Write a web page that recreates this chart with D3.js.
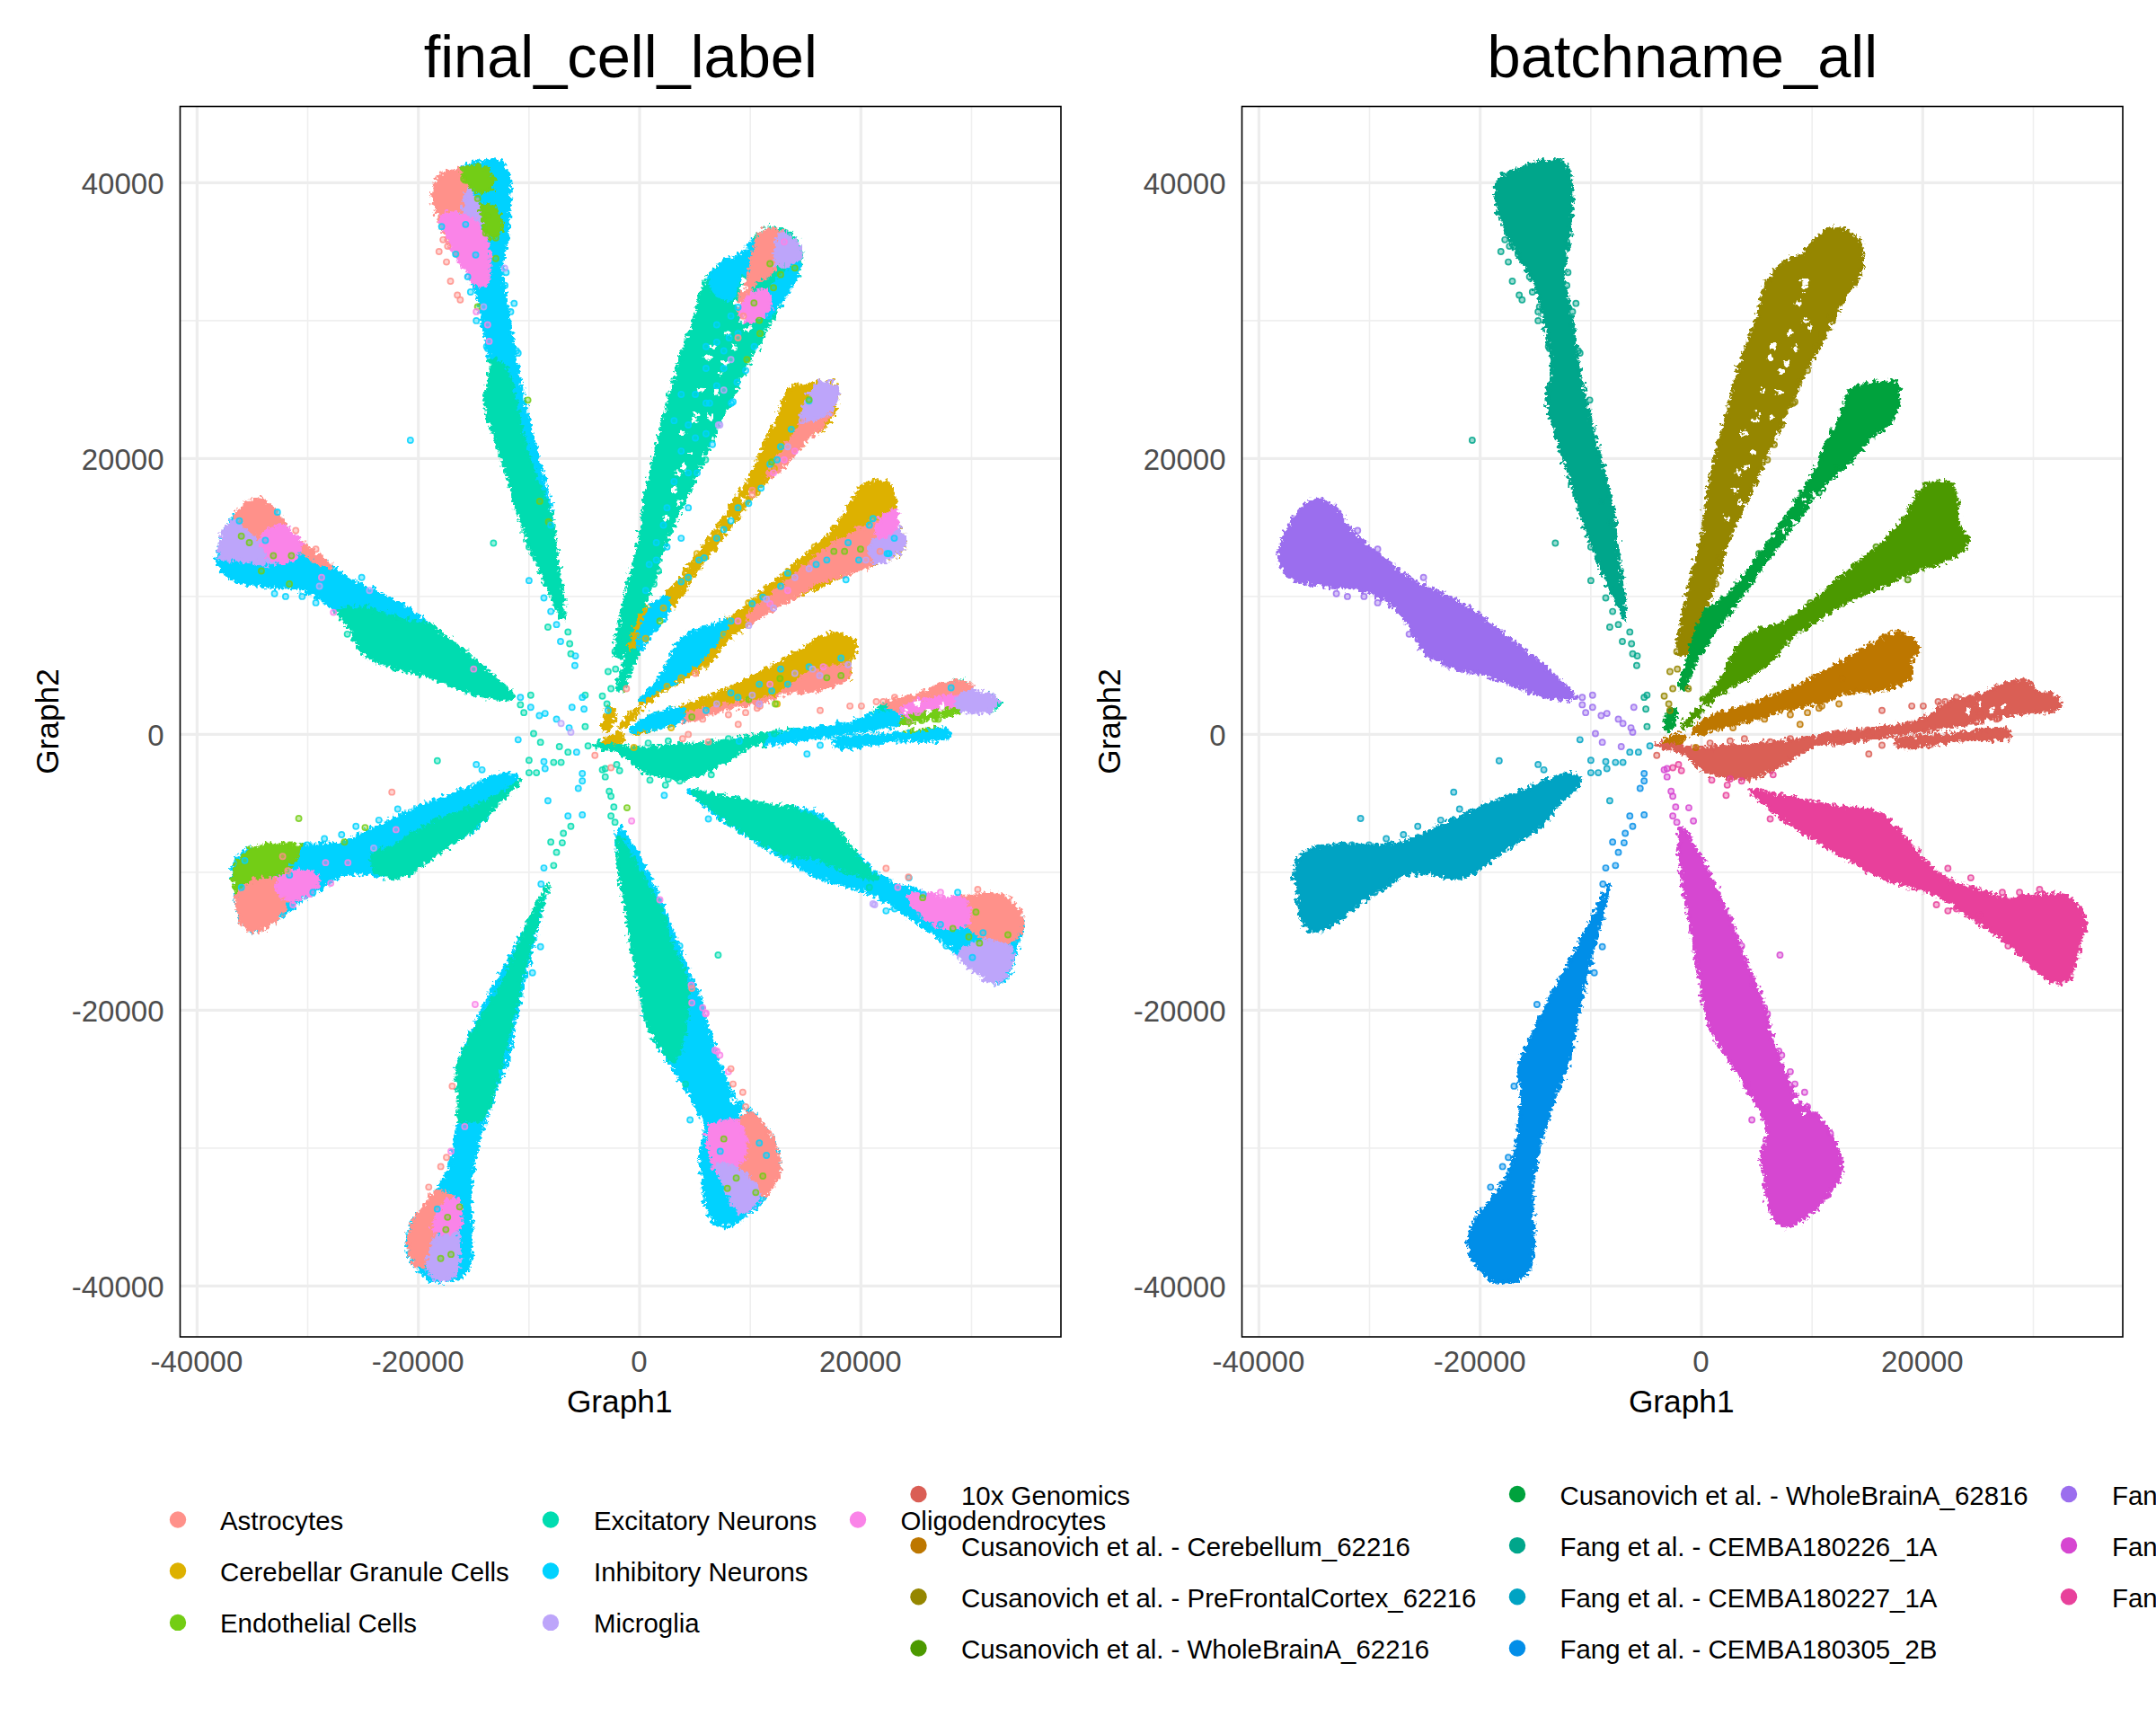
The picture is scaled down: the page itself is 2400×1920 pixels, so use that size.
<!DOCTYPE html>
<html><head><meta charset="utf-8">
<script src="https://cdn.jsdelivr.net/npm/d3@7/dist/d3.min.js"></script>
<style>html,body{margin:0;padding:0;background:#fff;overflow:hidden}svg{display:block}text{font-family:"Liberation Sans",Arial,sans-serif}</style>
</head><body><svg id="c" width="2400" height="1920"></svg>
<script>
const cellLabels=["Astrocytes","Cerebellar Granule Cells","Endothelial Cells","Excitatory Neurons","Inhibitory Neurons","Microglia","Oligodendrocytes"];
const cellColors=["#FF918A","#DDB100","#73CD14","#00DCB0","#00D2FF","#BDA5FA","#FA84E8"];
const batchLabels=["10x Genomics","Cusanovich et al. - Cerebellum_62216","Cusanovich et al. - PreFrontalCortex_62216","Cusanovich et al. - WholeBrainA_62216","Cusanovich et al. - WholeBrainA_62816","Fang et al. - CEMBA180226_1A","Fang et al. - CEMBA180227_1A","Fang et al. - CEMBA180305_2B","Fang et al.","Fang et al.","Fang et al."];
const batchColors=["#DA5E55","#BD7700","#958600","#4C9900","#00A23D","#00A68B","#00A3C3","#038EE8","#9B6EEE","#D646D1","#E8419B"];
const xMajor=[-40000,-20000,0,20000], xMinor=[-30000,-10000,10000,30000];
const yMajor=[-40000,-20000,0,20000,40000], yMinor=[-30000,-10000,10000,30000];

// Arm outlines (Graph1, Graph2)
const outline10x=[[[-4144,-790],[-3108,-474],[-777,-948],[2849,-790],[7511,-474],[12173,158],[15799,474],[19943,1106],[22533,2370],[25641,3002],[27195,3634],[29526,3855],[30303,3160],[31857,2844],[32530,2212],[31857,1738],[29267,1580],[23051,632],[17871,0],[12691,-632],[10101,-837],[8029,-1884],[4921,-3080],[3367,-3229],[259,-2631],[-1554,-1435],[-3626,-987]],[[17457,-474],[23051,63],[27713,316],[27972,-158],[23051,-474],[17871,-885]]];
const outlineCer=[[[-777,316],[777,1264],[3885,2054],[7511,3160],[11137,4582],[14245,6004],[16576,7110],[17871,7331],[19321,6794],[19529,5846],[18907,5372],[19011,4266],[17871,3634],[15799,3160],[13209,3002],[11137,2370],[8029,1896],[4921,1106],[1813,474],[-518,63]],[[-3367,-474],[-1813,63],[-1295,-316],[-2849,-632]]];
const outlinePFC=[[[-2072,5688],[-1554,9164],[-777,11692],[0,14220],[518,17380],[1295,20224],[2331,23384],[3626,27176],[4921,30020],[5957,32864],[7252,34128],[9324,34918],[10101,35708],[11655,36719],[13209,36498],[14400,35550],[14349,33496],[13209,31916],[11914,30020],[10878,28440],[9583,26544],[8288,24332],[6993,22120],[5698,19908],[4403,17380],[2849,14852],[2072,13272],[1554,11692],[1036,10586],[259,8848],[-777,6320]]];
const outlineWB1=[[[0,2370],[1554,3792],[2590,5372],[3885,6952],[5439,7647],[7252,8058],[9324,9164],[11655,10744],[13986,12324],[16317,13904],[18389,15800],[19684,17538],[20461,18170],[22533,18170],[23155,16748],[23310,15168],[24087,14062],[23310,13114],[21238,12324],[18907,11692],[16835,10902],[14504,10112],[12173,9164],[10101,8058],[8029,6952],[6216,5214],[3885,3950],[1813,3002],[518,2212]],[[-1813,474],[-777,1580],[155,1896],[-1036,790]]];
const outlineWB2=[[[-1917,3318],[-1036,6004],[259,8848],[2331,10112],[4144,11850],[6475,14378],[8547,16906],[10360,19276],[11137,20856],[12432,22910],[13468,24964],[14763,25343],[17612,25438],[17871,24332],[17094,22594],[15281,21488],[13209,19592],[11655,18486],[10360,17380],[8806,15642],[6993,13746],[5180,11850],[3626,9954],[1813,8058],[0,6004],[-1036,4266],[-1554,3160]],[[-3367,379],[-2745,1896],[-2227,1896],[-2849,316]]];
const outline226=[[[-6890,8374],[-8547,11060],[-10619,15168],[-11914,18644],[-13209,21804],[-13986,24174],[-13468,26544],[-14245,30020],[-15022,32548],[-16835,35076],[-18130,37288],[-18648,39184],[-18285,40290],[-16317,41080],[-14245,41554],[-12432,41459],[-11759,40132],[-11914,36340],[-12432,33180],[-11914,30968],[-11396,28124],[-11033,26544],[-10360,24016],[-9324,20540],[-8029,16432],[-7511,12956]]];
const outline227=[[[-10878,-3379],[-12691,-4874],[-14763,-6817],[-17094,-8013],[-19425,-9359],[-21756,-10405],[-24605,-10106],[-26936,-10256],[-28749,-11153],[-30821,-12199],[-32893,-13545],[-34965,-14292],[-36001,-13694],[-36519,-11601],[-36778,-9807],[-36001,-8611],[-33411,-8013],[-29785,-8013],[-27195,-7864],[-24087,-6817],[-20979,-5621],[-18389,-4724],[-15799,-3977],[-12691,-2930],[-11396,-2930]]];
const outline305=[[[-8288,-10854],[-9065,-13395],[-10101,-16684],[-11137,-20272],[-11914,-23561],[-13209,-26252],[-14504,-29541],[-15281,-32830],[-15177,-36717],[-15799,-39109],[-18389,-39707],[-20202,-38661],[-21083,-37016],[-20461,-35222],[-18907,-33578],[-17353,-31634],[-16576,-28943],[-16317,-26252],[-16576,-24159],[-15281,-21767],[-13727,-19076],[-11655,-16086],[-10101,-13694],[-8806,-11601]]];
const outlinePurple=[[[-11396,2686],[-13727,4582],[-15799,6004],[-18389,7584],[-20979,9164],[-23569,10270],[-26159,11218],[-28749,12798],[-31339,14536],[-33152,16432],[-34706,17064],[-36260,16274],[-37814,14220],[-38073,12324],[-36778,11218],[-33929,10744],[-30562,10428],[-27972,9322],[-26159,7584],[-25123,6004],[-22533,4898],[-19425,4266],[-16317,3318],[-13727,2686]]];
const outlineMagenta=[[[-1917,-6757],[-259,-8611],[1295,-11003],[2590,-13395],[4144,-16684],[5439,-19076],[6216,-21468],[7511,-24458],[8806,-26551],[10619,-27747],[11914,-29242],[12691,-31634],[11655,-33129],[10101,-34624],[7511,-35671],[6216,-34624],[5698,-31933],[5439,-30438],[5957,-28644],[3885,-25355],[777,-21169],[-259,-17282],[-1036,-13694],[-1813,-10106],[-2072,-7714]]];
const outlinePink=[[[4403,-4066],[7511,-4485],[12173,-5173],[15799,-5621],[17353,-6518],[18648,-7714],[19943,-8910],[22015,-10405],[25123,-11302],[27713,-11840],[32375,-11601],[33670,-12199],[34706,-13545],[34188,-15189],[33152,-17731],[31857,-17970],[30044,-16983],[27713,-15189],[24605,-13395],[20979,-11601],[16317,-10405],[13209,-9060],[10101,-7565],[7511,-6219],[5439,-4874]]];

// Cell-type zones inside each arm: [cell index, polygon]
const zones10x=[[4,[[11460,-316],[16597,632],[23016,1738],[23979,1264],[23016,632],[16597,-316],[11781,-948]]],[4,[[17238,-474],[28152,316],[28152,-316],[17559,-948]]],[0,[[22374,2528],[24923,3160],[28473,3855],[30335,3539],[29757,2686],[26226,2212],[23016,1738]]],[6,[[23658,1896],[29116,2686],[28794,1738],[23979,1264]]],[5,[[28794,2686],[30496,3318],[32328,2528],[32167,2054],[30496,1106],[28794,1422]]],[2,[[23658,948],[28794,1738],[28955,1264],[26226,474],[23979,316]]]];
const zonesCer=[[0,[[12423,2844],[15312,4424],[18843,4898],[18683,3792],[16597,3160],[13386,2686],[10176,1896],[6966,1106],[3756,790],[3756,1264],[7448,2054]]],[4,[[-899,316],[546,1264],[3756,1896],[3756,948],[546,316]]]];
const zonesPFC=[[4,[[6324,33180],[7929,34602],[10176,35866],[10818,34128],[9213,33180],[8250,31600],[6966,31916]]],[0,[[10336,35076],[11139,36498],[13065,36340],[12744,34444],[11460,33180],[10497,32864],[9694,30968],[9213,30336],[8892,31284],[9855,33180]]],[5,[[12744,36340],[14349,35550],[14285,34286],[12423,34128]]],[4,[[12102,32548],[14349,34128],[14189,33180],[12744,31284],[11460,30336]]],[6,[[9373,31284],[11460,32232],[11781,30968],[10497,30020],[9213,30020]]]];
const zonesWB1=[[0,[[16597,13272],[19806,14852],[23016,15800],[23337,14536],[21732,12640],[19164,11692],[16276,11060],[13386,9480],[10176,7584],[9855,8532],[13386,11060]]],[5,[[21411,14220],[23016,15168],[24119,14062],[23016,12956],[21411,12324],[20769,13272]]],[6,[[21411,15168],[23176,16274],[23337,15168],[21732,14220]]],[4,[[-96,2370],[1830,4424],[3756,6952],[5361,7900],[7929,8216],[6966,6636],[5040,5056],[3113,3792],[1188,3002]]]];
const zonesWB2=[[0,[[17559,24016],[16597,22436],[14670,20856],[13065,19276],[11460,18644],[14029,21804],[15633,23700]]],[5,[[15633,24964],[16597,25596],[17880,25122],[17559,23700],[15312,22752],[14670,23068]]],[4,[[-96,6004],[867,9164],[2151,10112],[2793,9164],[1188,6004]]],[3,[[-1862,4740],[-1059,6004],[-96,6004],[-738,3476],[-2000,3160]]]];
const zones226=[[3,[[-6497,7584],[-7221,12008],[-7945,15800],[-9936,19908],[-11022,23384],[-12108,26544],[-13375,27176],[-14642,24648],[-14280,20540],[-11746,15168],[-8850,9480]]],[0,[[-18986,39184],[-17900,40922],[-16090,41080],[-15185,39500],[-15728,37604],[-16090,36024],[-15366,33496],[-16452,33812],[-17900,36340],[-18986,37920]]],[5,[[-15547,39500],[-14460,38236],[-14460,36656],[-15728,36340],[-15909,37604]]],[6,[[-17900,37604],[-15728,37604],[-13918,36024],[-13918,32548],[-15728,33180],[-17176,35708]]],[2,[[-16090,40922],[-14461,41238],[-13375,40606],[-13375,39658],[-14642,39342],[-15728,40132]]],[2,[[-14280,38394],[-13194,38236],[-12470,36656],[-13556,36024],[-14099,37288]]]];
const zones227=[[3,[[-10682,-3319],[-13012,-4515],[-15496,-5412],[-18602,-6309],[-22329,-8103],[-24193,-8701],[-23882,-9897],[-21708,-10495],[-18602,-9000],[-15496,-7206],[-12390,-4814]]],[2,[[-36617,-9897],[-35996,-8850],[-34132,-7953],[-30716,-7953],[-31958,-9897],[-34753,-10495],[-36617,-11392]]],[0,[[-36306,-11691],[-34753,-10645],[-31958,-10794],[-32269,-12887],[-33821,-14083],[-35685,-14083]]],[6,[[-32890,-10794],[-31337,-9897],[-29163,-10196],[-29163,-11093],[-31026,-11990],[-31958,-11990]]]];
const zones305=[[3,[[-8197,-10794],[-9285,-13784],[-10527,-17372],[-11769,-21558],[-12701,-24548],[-14254,-27837],[-16739,-27837],[-16739,-24548],[-14565,-20960],[-12390,-17970],[-10527,-14382],[-8974,-11392]]],[0,[[-20932,-36807],[-19845,-34415],[-18602,-33219],[-17360,-33219],[-16739,-34714],[-18602,-36508],[-19224,-38302],[-20155,-38601]]],[5,[[-19068,-37704],[-18292,-36508],[-16584,-36209],[-16739,-39200],[-18292,-39648],[-19068,-38900]]],[6,[[-18602,-35909],[-17360,-33818],[-16428,-33818],[-16428,-35909]]]];
const zonesPurple=[[3,[[-11022,2686],[-14280,5056],[-17900,7584],[-21520,8374],[-25140,9164],[-27493,8848],[-26588,6952],[-25502,6004],[-21520,4424],[-16090,3160],[-12108,2212]]],[0,[[-36543,15958],[-35095,17222],[-33104,16748],[-31656,15010],[-29484,13588],[-27855,12166],[-29846,12798],[-32380,14852],[-34190,13904],[-35999,15010]]],[5,[[-37991,13904],[-36905,15484],[-35638,14852],[-33828,13588],[-32380,12798],[-33828,12324],[-35999,12640],[-37810,12798]]],[6,[[-34190,14220],[-32380,15168],[-30570,13904],[-31294,12640],[-33104,12640]]]];
const zonesMagenta=[[3,[[-1862,-7505],[225,-10196],[2151,-13186],[2793,-14980],[4077,-17372],[4398,-19764],[3113,-23651],[1830,-22752],[546,-20960],[-96,-18269],[-1059,-14382],[-2022,-9299]]],[0,[[8571,-28435],[10176,-27538],[11781,-29033],[12744,-32023],[11139,-33519],[9213,-31724]]],[6,[[6324,-28435],[8892,-28136],[9534,-30528],[7127,-31724],[6324,-30229]]],[5,[[6966,-31126],[9213,-31724],[10818,-33519],[9213,-34714],[7608,-32621]]]];
const zonesPink=[[3,[[4719,-4066],[10176,-4814],[13386,-5262],[18523,-7206],[19806,-9000],[21411,-10495],[18523,-9897],[15955,-9000],[13065,-8701],[10176,-7505],[6966,-5711]]],[0,[[29115,-11691],[30720,-11093],[33930,-11990],[34732,-13485],[33609,-14980],[31041,-14681],[29436,-13485]]],[5,[[28794,-15877],[31362,-14980],[33609,-15578],[32969,-17671],[31041,-17970],[29436,-17073]]],[6,[[24300,-11691],[29436,-11990],[29757,-13485],[27831,-14083],[25583,-13186]]]];

// Points visibly apart from the arms: [Graph1, Graph2, cell index]
const stray10x=[[16317,1738,0],[19011,2054,0],[20047,2054,0],[21394,2370,0],[15126,-1422,4],[16317,-790,4],[-4040,-1517,0],[3885,-316,0],[6216,-537,0],[24087,2528,0],[23051,2686,0],[22015,2370,0],[25123,1580,6],[26677,1106,2],[24346,948,6],[12173,63,3],[15022,316,4],[8029,-316,3],[777,-632,3],[2590,-474,3]];
const strayCer=[[12432,2212,1],[10878,2054,0],[8910,727,0],[-518,-948,1],[10619,1896,0],[9583,1580,0],[8029,1422,0],[5698,1106,0],[2849,474,1],[12691,4045,2]];
const strayPFC=[[-2849,4550,3],[-2176,4740,3],[-3367,2781,3],[-2590,3318,3],[-2953,2212,3],[-2849,1738,4],[-1191,3318,0],[11655,30336,4],[10878,29072,2],[10360,28124,4],[9583,26386,4],[8806,25533,4],[8443,24111,4],[7252,22436,5],[6579,21014,4],[5957,19908,3],[1554,12798,3],[1709,11850,3],[1295,10902,3],[-1813,6952,3],[-2227,6004,3],[8288,24016,4]];
const strayWB1=[[18648,11218,4],[9842,9543,1],[15799,13588,1]];
const strayWB2=[[12173,19276,1],[10619,17538,1],[8806,16906,1],[7252,15168,1],[6216,13904,1],[5180,13114,1]];
const stray226=[[-20720,21330,4],[-13209,13872,3],[-9997,11155,4],[-8651,9891,4],[-8029,8911,4],[-8288,7774,3],[-7511,7963,4],[-7148,6731,4],[-6475,7426,3],[-6320,6573,3],[-6216,5846,3],[-5802,5688,4],[-5854,4993,4],[-17767,35866,0],[-18130,35013,0],[-17457,34254,0],[-17094,32864,0],[-16472,31853,0],[-16213,31505,0],[-17353,35392,0],[-16576,34823,0],[-15281,32074,4],[-11344,31252,4],[-10982,27650,4],[-10101,24237,2],[-9031,16906,2],[-8235,15421,2],[-14642,31000,2],[-4921,2844,3],[-5180,2686,4],[-5025,1833,4],[-4921,569,3],[-13831,28124,4],[-14763,30000,4],[-15540,33180,4],[-13727,27966,4],[-14763,30652,6],[-12173,35708,4],[-12069,33496,4],[-12173,32548,4],[-11655,30652,4],[-11137,27808,4],[-8806,18328,4],[-8029,15168,4],[-9997,13588,3]];
const stray227=[[-30809,-6100,2],[-22392,-4186,0],[-21864,-5412,4],[-14763,-2183,4],[-14245,-2571,4],[-18285,-1914,3],[-10982,-389,4],[-9997,-1884,3],[-9997,-2781,3],[-9324,-2781,3],[-8547,-2482,4],[-7770,-2033,3],[-7097,-2033,3],[-6475,-1286,3],[-5698,-1286,4],[-4662,-837,3],[-8650,-1973,4],[-8288,-4814,4],[-28490,-7565,4],[-26936,-7266,4],[-25641,-6668,4],[-23569,-6219,4],[-27972,-10555,4],[-29526,-11452,4],[-31339,-12349,6],[-31598,-8013,2],[-30044,-8013,4]];
const stray305=[[-5180,-2841,4],[-5180,-3379,4],[-5543,-3917,4],[-6475,-5920,4],[-5180,-5831,4],[-6216,-6668,3],[-6889,-7176,3],[-8029,-7804,3],[-6993,-7864,3],[-7511,-8551,3],[-7770,-9508,3],[-8651,-9688,4],[-8910,-10854,4],[-16939,-25505,0],[-14867,-19585,6],[-17457,-30677,0],[-17975,-31336,0],[-19062,-32830,0],[-8961,-15399,4],[-9687,-17282,4]];
const strayPurple=[[-10774,2686,4],[-9842,2844,3],[-10774,2149,3],[-9842,1959,4],[-10464,1580,3],[-9065,1359,4],[-8547,1517,4],[-7511,1106,4],[-7097,790,5],[-6371,474,4],[-6216,158,5],[-6112,1959,4],[-9583,63,3],[-8961,-569,3],[-7252,-885,3],[-30500,10000,4],[-33000,10200,4],[-32000,10000,4],[-29267,13430,0],[-31080,14789,0],[-25123,11376,4],[-29267,9543,4],[-26418,7268,3]];
const strayMagenta=[[-3108,-2482,3],[-3367,-2571,3],[-3108,-3080,3],[-2745,-4126,3],[-2590,-4485,3],[-2331,-5262,3],[-2590,-5920,3],[-2227,-6369,3],[-1140,-5322,2],[-725,-6279,6],[7097,-15997,3],[4558,-27957,4],[7252,-23262,6],[8029,-24458,6],[8443,-25355,0],[9324,-25953,0],[10101,-27598,0],[4144,-25355,3],[6993,-22963,6],[5698,-19824,6],[5957,-20272,6],[3626,-15339,4],[4662,-18179,6],[11655,-28942,0],[9583,-27000,0]];
const strayPink=[[-2590,-2422,0],[-2072,-2183,3],[-1813,-2631,3],[932,-3319,3],[2590,-3229,3],[2227,-4425,4],[2331,-3678,3],[3626,-3379,3],[6216,-6130,4],[6475,-2930,3],[22274,-9718,0],[21238,-12349,5],[30562,-11243,0],[24346,-10405,4],[22533,-10704,4],[25641,-11601,4],[27195,-11452,6],[28749,-11452,4],[25123,-13096,4],[23051,-12648,4],[22274,-12797,4],[27713,-15339,4]];

// Points of another cell type seen inside the arms (left panel)
const mix10x=[[28152,3381,4],[24300,900,2],[25500,1000,2],[27000,1100,2],[4398,0,0],[9000,-500,4]];
const mixCer=[[18201,5530,4],[15312,4898,4],[12744,4740,4],[11941,3160,4],[8250,3002,4],[6003,1738,4],[10818,3634,4],[16917,4108,2],[18201,4266,2],[12263,2212,2],[9855,2528,2],[4719,1264,2],[18843,5056,5],[16276,4266,5],[10818,2212,5],[16597,4898,6],[14029,4424,5],[11781,3634,6],[8892,2686,4],[6966,2212,5],[5361,1264,0],[10176,2844,5],[13386,3634,4],[15633,4740,5]];
const mixPFC=[[11781,34128,2],[12744,33338,2],[14029,33812,2],[12102,32390,2],[10336,31284,2],[10818,30020,2],[9694,27176,2],[8892,29072,4],[8089,28756,4],[7608,26544,4],[6324,24016,4],[6003,21804,4],[5200,18960,4],[4398,16432,4],[3756,14220,4],[2472,13588,4],[1509,12640,4],[8250,27176,5],[7608,24964,5],[7127,22436,5],[8892,28756,0],[9373,30336,0],[13065,35708,6],[6966,28440,4],[6003,26544,4],[5040,24648,4],[4398,22436,4],[3756,20540,4],[3113,18328,4],[2472,16432,4],[7608,27808,4],[6966,25280,4],[6003,24016,4],[5040,21488,4],[4398,18960,4],[2151,15168,4],[1509,13904,4],[867,12324,4],[546,10428,4],[8250,30336,4],[8892,30968,4],[6966,29704,4],[6003,28124,4],[3756,24648,4],[3113,22752,4]];
const mixWB1=[[19966,13430,2],[18523,13272,2],[18843,13904,4],[22374,13114,4],[21090,15642,4],[15954,12324,4],[13386,11692,4],[11139,9954,4],[8250,8216,4],[10176,9480,4],[13386,10428,6],[11781,9480,6],[12102,9164,5],[9855,7900,5],[15312,12008,5],[16917,12640,4],[17559,13272,2],[19806,12640,4],[20769,15168,4],[22213,15800,6],[23016,14220,4],[22534,13114,4],[21732,13272,0],[20448,12640,5],[14029,11376,5],[12744,10744,4],[11460,9796,5],[8892,8216,6],[7608,7268,1],[6645,6004,1],[6003,5056,1],[5040,4424,0],[3756,4108,1],[2472,3476,1]];
const mixWB2=[[13707,22120,4],[12744,20856,4],[11781,19592,4],[10978,17854,4],[9855,16748,4],[8250,15484,4],[6966,14220,4],[5842,12798,4],[4398,11376,4],[15312,24174,4],[3756,11060,4],[14029,20540,6],[13065,19908,6],[12102,18960,6],[15312,24269,2],[11941,19750,2],[10176,17380,0],[14670,22752,5],[13386,20856,5],[12423,19908,4],[10176,17696,0],[8892,16432,4],[7608,14852,4],[5361,12640,4],[4719,12008,1],[3113,9796,1],[2151,9164,1],[1830,8216,2],[546,6952,1]];
const mix226=[[-15909,40290,2],[-14642,38860,2],[-13700,37604,2],[-13918,36340,2],[-13000,36000,2],[-15728,36972,4],[-14822,34760,4],[-16633,34823,4],[-17900,36814,4],[-13737,29704,6],[-14100,31000,5],[-13600,28500,6],[-12200,33800,5],[-15500,39000,5],[-13000,34500,2]];
const mix227=[[-35685,-9149,4],[-31648,-10196,4],[-35996,-11093,4],[-30405,-9299,4],[-27920,-10794,6],[-28386,-9299,6],[-26367,-9299,6],[-22019,-6907,6],[-24038,-8252,5],[-32269,-8850,0],[-31803,-9897,0],[-24814,-6757,2],[-26678,-7804,2]];
const mix305=[[-17360,-35013,2],[-17981,-38003,2],[-17049,-37704,2],[-16273,-34265,2],[-17515,-35909,2],[-18292,-34415,4],[-17671,-32621,4],[-17049,-31126,4],[-15807,-28435,6],[-17049,-30229,6]];
const mixPurple=[[-36000,14378,2],[-35276,13904,2],[-34190,11850,2],[-33104,12956,2],[-31475,12956,2],[-31656,10902,2],[-36181,15484,4],[-33828,14062,4],[-32742,16116,4],[-28748,11376,6],[-27674,8848,6],[-24416,10428,5],[-28940,10744,5],[-15000,4740,6]];
const mixMagenta=[[7608,-29332,2],[7929,-32919,2],[11139,-32023,2],[8731,-32172,2],[10497,-33220,2],[7287,-30229,4],[11460,-30529,4],[10818,-29632,4],[4719,-19465,6],[6003,-20213,6],[6805,-22903,6],[1830,-11990,6],[8250,-24249,0],[4719,-18418,0]];
const mixPink=[[30400,-12887,2],[28312,-14083,2],[25583,-11840,2],[29757,-14681,2],[33288,-14531,2],[30720,-15129,2],[27190,-13784,4],[28794,-14382,4],[31041,-14381,4],[30079,-16176,4],[21090,-12289,5],[23337,-11093,6],[20769,-11093,3],[24300,-10345,0]];

// Empty gaps inside the sparse parts of arms
const gapsPFC=[[9324,32864],[9324,32390],[8806,31284],[9324,30020],[6475,28124],[6216,27334],[7770,26860],[5180,23226],[4921,22752],[3885,21804],[3367,18960],[3108,17696],[2331,15642],[8029,29072],[7252,26228],[8600,28000],[7000,24800],[5600,25000],[6400,23000],[4700,20400],[4000,19400],[3500,16800],[9800,29400]];
const gapsWB2=[[10101,17380],[8288,15484],[7400,14800],[9300,17000]];
const gaps10x=[[25123,2212],[24087,1738],[26200,1700],[27400,2000]];
const gapsMagenta=[[8547,-26551],[9324,-27448],[9000,-25800]];

const arms=[
 {b:0,base:3,outline:outline10x,zones:zones10x,stray:stray10x,mix:mix10x,gaps:gaps10x},
 {b:2,base:3,outline:outlinePFC,zones:zonesPFC,stray:strayPFC,mix:mixPFC,gaps:gapsPFC},
 {b:1,base:1,outline:outlineCer,zones:zonesCer,stray:strayCer,mix:mixCer,gaps:[]},
 {b:3,base:1,outline:outlineWB1,zones:zonesWB1,stray:strayWB1,mix:mixWB1,gaps:[]},
 {b:4,base:1,outline:outlineWB2,zones:zonesWB2,stray:strayWB2,mix:mixWB2,gaps:gapsWB2},
 {b:5,base:4,outline:outline226,zones:zones226,stray:stray226,mix:mix226,gaps:[]},
 {b:6,base:4,outline:outline227,zones:zones227,stray:stray227,mix:mix227,gaps:[]},
 {b:7,base:4,outline:outline305,zones:zones305,stray:stray305,mix:mix305,gaps:[]},
 {b:8,base:4,outline:outlinePurple,zones:zonesPurple,stray:strayPurple,mix:mixPurple,gaps:[]},
 {b:9,base:4,outline:outlineMagenta,zones:zonesMagenta,stray:strayMagenta,mix:mixMagenta,gaps:gapsMagenta},
 {b:10,base:4,outline:outlinePink,zones:zonesPink,stray:strayPink,mix:mixPink,gaps:[]}
];

const svg=d3.select("#c");
svg.append("rect").attr("width",2400).attr("height",1920).attr("fill","#fff");
const defs=svg.append("defs");
const rough=defs.append("filter").attr("id","rough").attr("filterUnits","userSpaceOnUse").attr("x",0).attr("y",0).attr("width",2400).attr("height",1920);
rough.append("feTurbulence").attr("type","fractalNoise").attr("baseFrequency",0.2).attr("numOctaves",2).attr("seed",4).attr("result","n");
rough.append("feDisplacementMap").attr("in","SourceGraphic").attr("in2","n").attr("scale",11).attr("xChannelSelector","R").attr("yChannelSelector","G");
const xDomain=[-41534,38080], yDomain=[-43687,45530];

function panel(id,left,right,title,useCells){
  const top=118.5,bottom=1488;
  const x=d3.scaleLinear().domain(xDomain).range([left,right]);
  const y=d3.scaleLinear().domain(yDomain).range([bottom,top]);
  const g=svg.append("g");
  const grid=g.append("g");
  xMinor.forEach(v=>grid.append("line").attr("x1",x(v)).attr("x2",x(v)).attr("y1",top).attr("y2",bottom).attr("stroke","#EFEFEF").attr("stroke-width",1.6));
  yMinor.forEach(v=>grid.append("line").attr("y1",y(v)).attr("y2",y(v)).attr("x1",left).attr("x2",right).attr("stroke","#EFEFEF").attr("stroke-width",1.6));
  xMajor.forEach(v=>grid.append("line").attr("x1",x(v)).attr("x2",x(v)).attr("y1",top).attr("y2",bottom).attr("stroke","#EDEDED").attr("stroke-width",3.2));
  yMajor.forEach(v=>grid.append("line").attr("y1",y(v)).attr("y2",y(v)).attr("x1",left).attr("x2",right).attr("stroke","#EDEDED").attr("stroke-width",3.2));
  const line=d3.line().x(d=>x(d[0])).y(d=>y(d[1])).curve(d3.curveCatmullRomClosed.alpha(0.5));
  const edge=(s,col)=>s.attr("fill",col).attr("stroke",col).attr("stroke-width",5).attr("stroke-linecap","round").attr("stroke-linejoin","round").attr("stroke-dasharray","0 5.5");

  const armsG=g.append("g").attr("filter","url(#rough)");
  arms.forEach((a,i)=>{
    const mid=`m${id}${i}`;
    const m=defs.append("mask").attr("id",mid).attr("maskUnits","userSpaceOnUse").attr("x",0).attr("y",0).attr("width",2400).attr("height",1920);
    a.outline.forEach(p=>edge(m.append("path").attr("d",line(p)),"#fff"));
    a.gaps.forEach(d=>m.append("circle").attr("cx",x(d[0])).attr("cy",y(d[1])).attr("r",3).attr("fill","#000"));
    const ag=armsG.append("g").attr("mask",`url(#${mid})`);
    const baseCol=useCells?cellColors[a.base]:batchColors[a.b];
    a.outline.forEach(p=>edge(ag.append("path").attr("d",line(p)),baseCol));
    if(useCells){
      a.zones.forEach(z=>edge(ag.append("path").attr("d",line(z[1])),cellColors[z[0]]));
    }
  });
  const dots=g.append("g");
  arms.forEach(a=>{
    const pts=useCells?a.stray.concat(a.mix):a.stray;
    dots.selectAll(null).data(pts).join("circle")
      .attr("cx",d=>x(d[0])).attr("cy",d=>y(d[1])).attr("r",3.1)
      .attr("fill",d=>useCells?cellColors[d[2]]:batchColors[a.b]).attr("fill-opacity",.4)
      .attr("stroke",d=>useCells?cellColors[d[2]]:batchColors[a.b]).attr("stroke-opacity",.85).attr("stroke-width",1.7);
  });
  g.append("rect").attr("x",left).attr("y",top).attr("width",right-left).attr("height",bottom-top).attr("fill","none").attr("stroke","#000").attr("stroke-width",1.6);

  const ax=g.append("g").attr("transform",`translate(0,${bottom})`).call(d3.axisBottom(x).tickValues(xMajor).tickFormat(d=>String(d)).tickSize(0).tickPadding(16));
  const ay=g.append("g").attr("transform",`translate(${left},0)`).call(d3.axisLeft(y).tickValues(yMajor).tickFormat(d=>String(d)).tickSize(0).tickPadding(18));
  [ax,ay].forEach(s=>{s.select(".domain").remove();s.selectAll("text").attr("fill","#4D4D4D").style("font-size","33px").style("font-family",'"Liberation Sans"');});
  ay.selectAll("text").attr("dy",".38em");
  ax.selectAll("text").attr("dx","-1px");
  const cx=(left+right)/2;
  g.append("text").attr("x",cx).attr("y",86).attr("text-anchor","middle").attr("font-size",66.8).attr("fill","#000").text(title);
  g.append("text").attr("x",cx-1).attr("y",1571.5).attr("text-anchor","middle").attr("font-size",35.3).attr("fill","#000").text("Graph1");
  g.append("text").attr("transform",`translate(${left-136},803) rotate(-90)`).attr("text-anchor","middle").attr("font-size",35.3).attr("fill","#000").text("Graph2");
}
panel("a",200.5,1181,"final_cell_label",true);
panel("b",1382.5,2363,"batchname_all",false);

function legend(labels,colors,colX,textX,rowY,rows){
  const g=svg.append("g");
  labels.forEach((t,i)=>{
    const c=Math.floor(i/rows), r=i%rows;
    g.append("circle").attr("cx",colX[c]).attr("cy",rowY[r]+1.5).attr("r",9.2).attr("fill",colors[i]);
    g.append("text").attr("x",textX[c]).attr("y",rowY[r]+13).attr("font-size",29.4).attr("fill","#000").text(t);
  });
}
legend(cellLabels,cellColors,[198,613,955],[245,661,1002.5],[1690,1747,1804.4],3);
legend(batchLabels,batchColors,[1022.5,1689,2303],[1070,1736.5,2351],[1661.5,1718.6,1775.7,1833],4);
</script></body></html>
